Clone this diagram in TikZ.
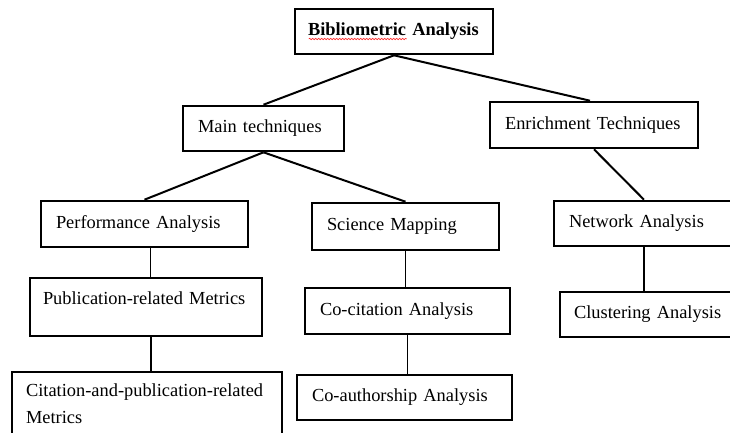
\documentclass[tikz,border=0pt]{standalone}
\usepackage{fontspec}
\setmainfont{Liberation Serif}
\usetikzlibrary{decorations.pathmorphing}

\begin{document}
\begin{tikzpicture}[x=1pt,y=-1pt,
        box/.style={draw, align=left, inner xsep=15pt, inner ysep=0pt,
            font=\fontsize{18.4}{27}\selectfont},
        topbox/.style={box, line width=2.6pt},
        lowbox/.style={box, line width=1.6pt},
        conn/.style={line width=2pt},
        vline/.style={line width=1.5pt}]
            % Fix the frame
            \clip (0,0) rectangle (730,432);

            % Draw upper boxes
            \node[topbox, inner xsep=13pt, text width=172, minimum height=45] (biblio) at (394,31.5) {\bfseries Bibliometric Analysis};
            \node[topbox, text width=131, minimum height=45] (main) at (263.5,128.5) {Main techniques};
            \node[topbox, text width=178, minimum height=46] (enrich) at (594,125) {Enrichment Techniques};
            \node[topbox, text width=177, minimum height=46] (perf) at (144.5,224) {Performance Analysis};
            \node[topbox, text width=157, minimum height=47] (sci) at (405.5,226.5) {Science Mapping};
            \node[topbox, text width=150, minimum height=45] (net) at (644,223.5) {Network Analysis};

            % Draw lower boxes
            \node[lowbox, inner xsep=13pt, text width=206, minimum height=58, text depth=18] (pub) at (146,307) {Publication-related Metrics};
            \node[lowbox, inner xsep=14pt, text width=242, minimum height=64] (cit) at (147,404) {Citation-and-publication-related\\Metrics};
            \node[lowbox, text width=175, minimum height=46] (cocit) at (407.5,311) {Co-citation Analysis};
            \node[lowbox, text width=185, minimum height=45] (coauth) at (404.5,397.5) {Co-authorship Analysis};
            \node[lowbox, inner xsep=14pt, text width=152, minimum height=45] (clu) at (650,314.5) {Clustering Analysis};

            % Spell-check mark
            \draw[red!85, line width=0.6pt, decorate, decoration={snake, amplitude=0.7pt, segment length=3pt}]
                ([xshift=15pt,yshift=-7.5pt]biblio.west) -- ++(98,0);

            % Draw connectors
            \draw[conn] (biblio.south) -- (main.north);
            \draw[conn] (biblio.south) -- ([xshift=-4pt]enrich.north);
            \draw[conn] (main.south) -- (perf.north);
            \draw[conn] (main.south) -- (sci.north);
            \draw[conn] (enrich.south) -- (net.north);

            \draw[vline] ([xshift=6pt]perf.south) -- ([xshift=6pt]perf.south |- pub.north);
            \draw[vline] ([xshift=5pt]pub.south) -- ([xshift=5pt]pub.south |- cit.north);
            \draw[vline] (sci.south) -- (sci.south |- cocit.north);
            \draw[vline] (cocit.south) -- (cocit.south |- coauth.north);
            \draw[vline] (net.south) -- (net.south |- clu.north);
        \end{tikzpicture}
\end{document}
